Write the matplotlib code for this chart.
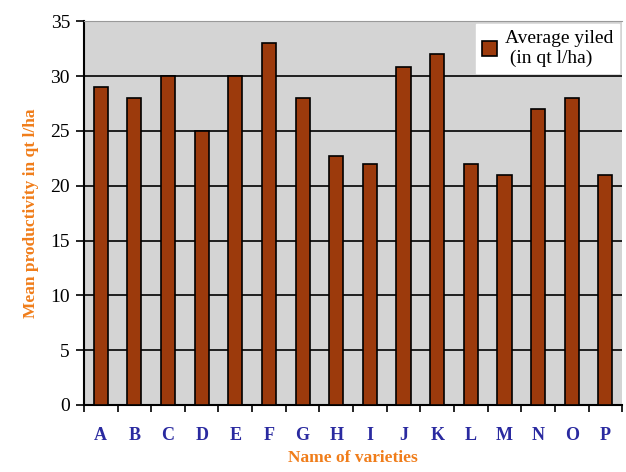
import numpy as np
import matplotlib
matplotlib.use("Agg")
from matplotlib import pyplot as plt

varieties = ["A", "B", "C", "D", "E", "F", "G", "H", "I", "J", "K", "L", "M", "N", "O", "P"]
avg_yield = [29, 28, 30, 25, 30, 33, 28, 22.7, 22, 30.8, 32, 22, 21, 27, 28, 21]

plt.rcParams["font.family"] = ["Liberation Serif", "DejaVu Serif"]

fig = plt.figure(figsize=(6.26, 4.72), dpi=100)
ax = fig.add_axes([0.134, 0.142, 0.86, 0.813])
ax.set_facecolor("#d4d4d4")

x = np.arange(len(varieties))
ax.bar(x, avg_yield, width=0.42, color="#9c3a0c", edgecolor="black", linewidth=1.2,
       label="Average yiled\n (in qt l/ha)", zorder=3)

ax.set_ylim(0, 35)
ax.set_xlim(-0.5, len(varieties) - 0.5)
ax.set_yticks(range(0, 36, 5))
ax.yaxis.grid(True, color="black", linewidth=1.2, zorder=0)
ax.set_axisbelow(True)

ax.set_xticks(x)
ax.set_xticklabels(varieties, color="#2a2aa0", fontsize=13, fontweight="bold")
ax.set_xticks(np.arange(-0.5, len(varieties), 1.0), minor=True)
ax.tick_params(axis="x", which="major", length=0, pad=16)
ax.tick_params(axis="x", which="minor", length=5, width=1.2, direction="out")
ax.tick_params(axis="y", length=6, width=1.2, labelsize=14, pad=4)

for s in ["left", "bottom"]:
    ax.spines[s].set_linewidth(1.5)
    ax.spines[s].set_color("black")
ax.spines["top"].set_color("#999999")
ax.spines["right"].set_visible(False)

ax.set_ylabel("Mean productivity in qt l/ha", color="#f07d1a", fontsize=12.5, fontweight="bold", labelpad=8)
ax.set_xlabel("Name of varieties", color="#f07d1a", fontsize=12.5, fontweight="bold", labelpad=4)

leg = ax.legend(loc="upper right", fontsize=14, frameon=True, fancybox=False,
                framealpha=1, edgecolor="white", borderaxespad=0.15, handlelength=0.8,
                handleheight=0.8, handletextpad=0.4, borderpad=0.3, labelspacing=0.2)

fig.savefig("out.png", dpi=100)
